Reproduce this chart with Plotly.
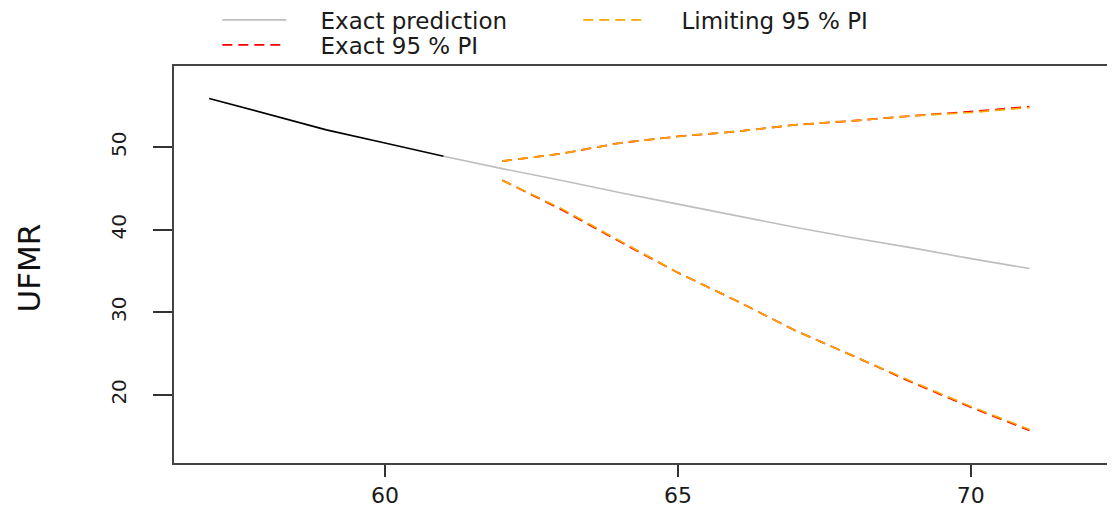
import plotly.graph_objects as go

# ---- data ----
obs_years = [57, 58, 59, 60, 61]
obs_ufmr = [55.9, 54.0, 52.1, 50.5, 48.9]

pred_years = [61, 62, 63, 64, 65, 66, 67, 68, 69, 70, 71]
pred_ufmr = [48.9, 47.4, 46.0, 44.5, 43.1, 41.7, 40.3, 39.0, 37.8, 36.5, 35.3]

pi_years = [62, 63, 64, 65, 66, 67, 68, 69, 70, 71]
limit_upper = [48.3, 49.2, 50.5, 51.3, 51.9, 52.7, 53.2, 53.8, 54.2, 54.8]
limit_lower = [46.0, 42.6, 38.7, 34.8, 31.4, 27.8, 24.7, 21.6, 18.6, 15.8]
exact_upper = [48.3, 49.2, 50.5, 51.3, 51.9, 52.7, 53.2, 53.8, 54.3, 54.9]
exact_lower = [46.0, 42.5, 38.6, 34.8, 31.4, 27.8, 24.7, 21.5, 18.5, 15.7]

x_ticks = [60, 65, 70]
y_ticks = [20, 30, 40, 50]

FONT = "DejaVu Sans"
PAD = "\u00a0\u00a0\u00a0\u00a0"

fig = go.Figure()

# exact prediction (gray)
fig.add_trace(go.Scatter(x=pred_years, y=pred_ufmr, mode="lines",
                         line=dict(color="#BEBEBE", width=1.6),
                         name=PAD + "Exact prediction", legend="legend"))
# exact 95% PI (red)
fig.add_trace(go.Scatter(x=pi_years + [None] + pi_years,
                         y=exact_upper + [None] + exact_lower,
                         mode="lines", connectgaps=False,
                         line=dict(color="#FF0000", width=1.8, dash="10px,6px"),
                         name=PAD + "Exact 95 % PI", legend="legend3"))
# limiting 95% PI (orange)
fig.add_trace(go.Scatter(x=pi_years + [None] + pi_years,
                         y=limit_upper + [None] + limit_lower,
                         mode="lines", connectgaps=False,
                         line=dict(color="#FFA500", width=1.7, dash="10px,6px"),
                         name=PAD + "Limiting 95 % PI", legend="legend2"))
# observed (black)
fig.add_trace(go.Scatter(x=obs_years, y=obs_ufmr, mode="lines",
                         line=dict(color="#000000", width=1.7),
                         showlegend=False))

leg = dict(xanchor="left", yanchor="middle", itemwidth=64,
           font=dict(size=23), bgcolor="rgba(0,0,0,0)")

fig.update_layout(
    width=1107, height=506,
    margin=dict(l=166, r=0, t=58, b=51, autoexpand=False),
    paper_bgcolor="white", plot_bgcolor="white",
    font=dict(family=FONT, color="#1a1a1a", size=21),
    legend=dict(x=0.046, y=1.116, **leg),
    legend3=dict(x=0.046, y=1.053, **leg),
    legend2=dict(x=0.4296, y=1.116, **leg),
    xaxis=dict(range=[56.40, 72.46], tickvals=x_ticks, ticks="outside",
               ticklen=12, tickwidth=1.5, tickcolor="#333",
               showline=True, linecolor="#444", linewidth=2, mirror=True,
               showgrid=False, zeroline=False, tickfont=dict(size=22),
               ticklabelstandoff=0),
    yaxis=dict(range=[11.75, 59.83], tickvals=y_ticks, ticks="outside",
               ticklen=19, tickwidth=1.5, tickcolor="#333", tickangle=-90,
               showline=True, linecolor="#444", linewidth=2, mirror=False,
               showgrid=False, zeroline=False, tickfont=dict(size=20),
               ticklabelstandoff=19),
    annotations=[dict(text="UFMR", x=-0.154, y=0.49, xref="paper", yref="paper",
                      textangle=-90, showarrow=False, xanchor="center",
                      yanchor="middle", font=dict(size=31, color="#111"))],
)

fig.write_html("out.html")
